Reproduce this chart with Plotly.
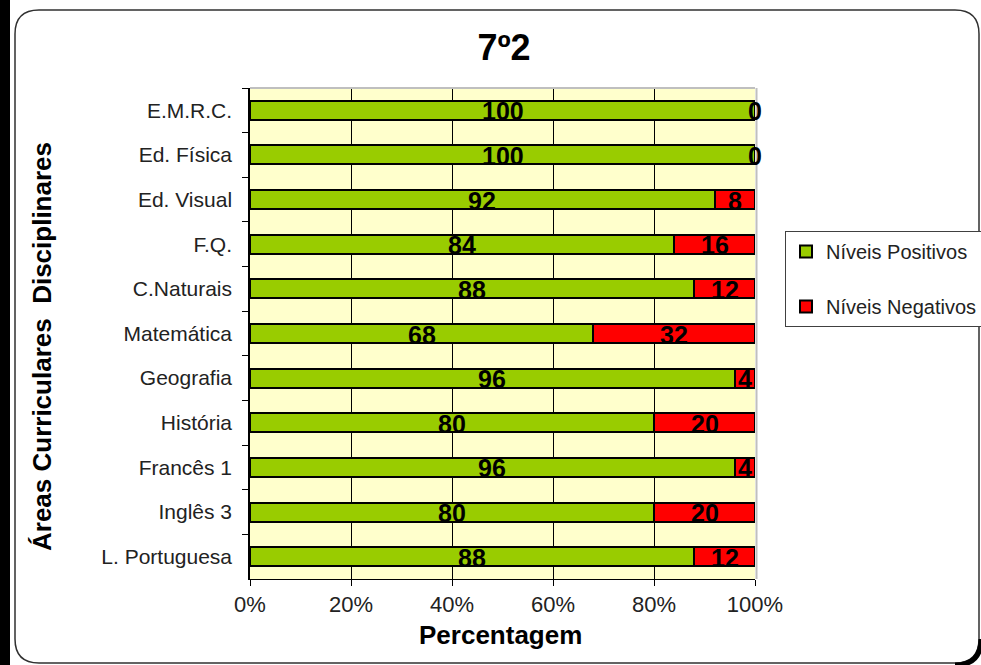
import plotly.graph_objects as go

categories = ["E.M.R.C.", "Ed. Física", "Ed. Visual", "F.Q.", "C.Naturais", "Matemática",
              "Geografia", "História", "Francês 1", "Inglês 3", "L. Portuguesa"]
positivos = [100, 100, 92, 84, 88, 68, 96, 80, 96, 80, 88]
negativos = [0, 0, 8, 16, 12, 32, 4, 20, 4, 20, 12]
x_ticks = [0, 20, 40, 60, 80, 100]
x_ticklabels = ["0%", "20%", "40%", "60%", "80%", "100%"]

W, H = 981, 665
L, R, T, B = 250, 755, 88, 579
FONT = "Arial, Liberation Sans, sans-serif"


def px(x):
    return (x - L) / (R - L)


def py(y):
    return (B - y) / (B - T)


fig = go.Figure()
fig.add_trace(go.Bar(y=categories, x=positivos, orientation="h", name="Níveis Positivos",
                     marker=dict(color="#99CC00", line=dict(color="black", width=2)),
                     legendgroup="pos", hoverinfo="x+y"))
fig.add_trace(go.Bar(y=categories, x=negativos, orientation="h", name="Níveis Negativos",
                     marker=dict(color="#FF0000", line=dict(color="black", width=2)),
                     legendgroup="neg", hoverinfo="x+y"))

label_font = dict(family=FONT, size=25, color="black", weight="bold")
annotations = []
for cat, p, n in zip(categories, positivos, negativos):
    annotations.append(dict(x=p / 2, y=cat, xref="x", yref="y", text=str(p), showarrow=False,
                            font=label_font, yshift=-1, xanchor="center", yanchor="middle"))
    annotations.append(dict(x=p + n / 2, y=cat, xref="x", yref="y", text=str(n), showarrow=False,
                            font=label_font, yshift=-1, xanchor="center", yanchor="middle"))

shapes = []
# left black bar
shapes.append(dict(type="rect", xref="paper", yref="paper", x0=px(0), x1=px(10), y0=py(0), y1=py(H),
                   fillcolor="black", line=dict(width=0), layer="above"))
# rounded frame
x0, x1, y0, y1, r = 15, 979, 10, 663, 24
path = (f"M {px(x0 + r)},{py(y0)} L {px(x1 - r)},{py(y0)} Q {px(x1)},{py(y0)} {px(x1)},{py(y0 + r)} "
        f"L {px(x1)},{py(y1 - r)} Q {px(x1)},{py(y1)} {px(x1 - r)},{py(y1)} "
        f"L {px(x0 + r)},{py(y1)} Q {px(x0)},{py(y1)} {px(x0)},{py(y1 - r)} "
        f"L {px(x0)},{py(y0 + r)} Q {px(x0)},{py(y0)} {px(x0 + r)},{py(y0)} Z")
shapes.append(dict(type="path", xref="paper", yref="paper", path=path,
                   line=dict(color="#303030", width=1.5), layer="above"))
# shadow at bottom-right corner
shadow = (f"M {px(x1 + 2)},{py(y1 - r)} Q {px(x1 + 2)},{py(y1 + 2)} {px(x1 - r)},{py(y1 + 2)}")
shapes.append(dict(type="path", xref="paper", yref="paper", path=shadow,
                   line=dict(color="black", width=5), layer="above"))
# gray plot border top and right
shapes.append(dict(type="line", xref="paper", yref="paper", x0=0, x1=1, y0=1, y1=1,
                   line=dict(color="#BFBFBF", width=2), layer="above"))
shapes.append(dict(type="line", xref="paper", yref="paper", x0=1.003, x1=1.003, y0=0, y1=1,
                   line=dict(color="#BFBFBF", width=2), layer="below"))

annotations += [
    dict(text="Percentagem", xref="paper", yref="paper", x=px(500), y=py(635), showarrow=False,
         font=dict(family=FONT, size=26, color="black", weight="bold"), xanchor="center", yanchor="middle"),
    dict(text="Áreas Curriculares  Disciplinares", xref="paper", yref="paper", x=px(42), y=py(347),
         showarrow=False, textangle=-90,
         font=dict(family=FONT, size=26, color="black", weight="bold"), xanchor="center", yanchor="middle"),
]

fig.update_layout(
    width=W, height=H,
    margin=dict(l=L, r=W - R, t=T, b=H - B, pad=0, autoexpand=False),
    paper_bgcolor="white",
    plot_bgcolor="#FFFFCC",
    barmode="stack",
    bargap=0.575,
    title=dict(text="7º2", x=px(504), xref="paper", y=1 - 47 / H, yref="container",
               xanchor="center", yanchor="middle",
               font=dict(family=FONT, size=36, color="black", weight="bold")),
    font=dict(family=FONT, color="#222222"),
    showlegend=True,
    legend=dict(x=px(785), y=py(231), xanchor="left", yanchor="top",
                bordercolor="#404040", borderwidth=1, bgcolor="white",
                font=dict(family=FONT, size=20, color="#222222"),
                traceorder="grouped", tracegroupgap=26, itemwidth=30),
    shapes=shapes,
    annotations=annotations,
)
fig.update_xaxes(range=[0, 100], tickvals=x_ticks, ticktext=x_ticklabels,
                 showgrid=True, gridcolor="black", gridwidth=1,
                 showline=True, linecolor="black", linewidth=1,
                 ticks="outside", ticklen=6, tickcolor="black",
                 tickfont=dict(family=FONT, size=22, color="#222222"), zeroline=False, fixedrange=True)
fig.update_yaxes(type="category", categoryorder="array", categoryarray=categories, autorange="reversed",
                 showline=True, linecolor="black", linewidth=1.5,
                 ticks="outside", ticklen=6, tickcolor="black", tickson="boundaries",
                 ticklabelstandoff=12,
                 tickfont=dict(family=FONT, size=21, color="#222222"), showgrid=False, fixedrange=True)

fig.write_html("out.html", config={"displayModeBar": False},
               post_script="document.body.style.margin='0';document.body.style.overflow='hidden';")
